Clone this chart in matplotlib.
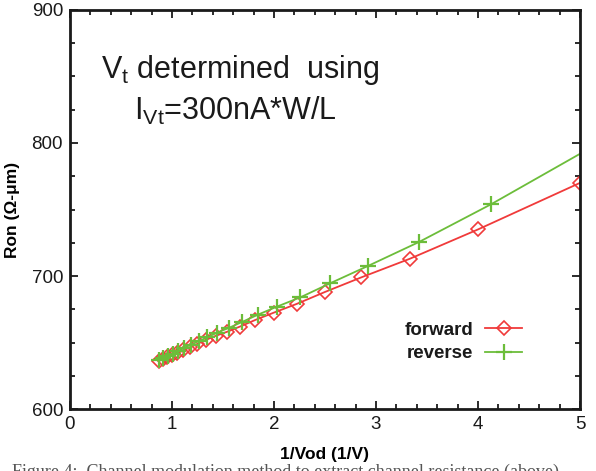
import matplotlib.pyplot as plt
from matplotlib.ticker import MultipleLocator

# forward sweep (diamonds)
fwd_x = [5.0, 4.0, 3.333, 2.857, 2.5, 2.222, 2.0, 1.818, 1.667, 1.538,
         1.429, 1.333, 1.25, 1.176, 1.111, 1.053, 1.0, 0.952, 0.909, 0.870]
fwd_y = [770, 735, 713, 699, 688, 679, 672.5, 667, 662, 658,
         655, 652, 649, 646.5, 644, 642, 640.5, 639, 637.5, 636]

# reverse sweep (plus)
rev_x = [5.21, 4.13, 3.42, 2.92, 2.55, 2.26, 2.03, 1.845, 1.689, 1.558,
         1.445, 1.348, 1.263, 1.188, 1.121, 1.062, 1.008, 0.960, 0.916, 0.876]
rev_y = [801, 754, 725.5, 707.5, 694.5, 684, 677, 671, 665.5, 661,
         657.5, 654, 651, 648.5, 646, 643.5, 641.5, 640, 638.5, 637]

RED = '#f03a3a'
GREEN = '#6cbd3a'

plt.rcParams['font.family'] = ['Liberation Sans', 'DejaVu Sans']

fig = plt.figure(figsize=(5.96, 4.71), dpi=100)
ax = fig.add_axes([0.1174, 0.1316, 0.8557, 0.8472])

ax.plot(fwd_x, fwd_y, color=RED, lw=1.3, marker='D', ms=7.5, mfc='none',
        mec=RED, mew=1.2, label='forward', clip_on=True)
ax.plot(rev_x, rev_y, color=GREEN, lw=1.3, marker='+', ms=12, mew=1.6,
        label='reverse', clip_on=True)

ax.set_xlim(0, 5)
ax.set_ylim(600, 900)
ax.xaxis.set_major_locator(MultipleLocator(1))
ax.xaxis.set_minor_locator(MultipleLocator(0.2))
ax.yaxis.set_major_locator(MultipleLocator(100))
ax.yaxis.set_minor_locator(MultipleLocator(25))
ax.tick_params(which='both', direction='in', top=True, right=True, width=1.3,
               labelsize=13.5, colors='#1a1a1a')
ax.tick_params(which='major', length=6, pad=5)
ax.tick_params(which='minor', length=3.5)
for s in ax.spines.values():
    s.set_linewidth(2)
    s.set_color('#1a1a1a')

ax.set_xlabel('1/Vod (1/V)', fontsize=12.5, fontweight='bold', labelpad=10)
ax.set_ylabel('Ron (\u03a9-\u03bcm)', fontsize=12.5, fontweight='bold', labelpad=8)

ax.text(0.06, 0.83, r'V$_\mathregular{t}$ determined  using', transform=ax.transAxes,
        fontsize=22, color='#1a1a1a')
ax.text(0.125, 0.725, r'I$_\mathregular{Vt}$=300nA*W/L', transform=ax.transAxes,
        fontsize=22, color='#1a1a1a')

leg = ax.legend(loc='lower right', bbox_to_anchor=(0.92, 0.075), frameon=False,
                markerfirst=False, fontsize=13.5, handlelength=2.0,
                handletextpad=0.6, labelspacing=0.35)
for t in leg.get_texts():
    t.set_fontweight('bold')
    t.set_color('#1a1a1a')

fig.text(0.02, 0.016, 'Figure 4:  Channel modulation method to extract channel resistance (above)',
         fontsize=13, family='Liberation Serif', color='#555555', va='top')

fig.savefig('out.png', dpi=100)
